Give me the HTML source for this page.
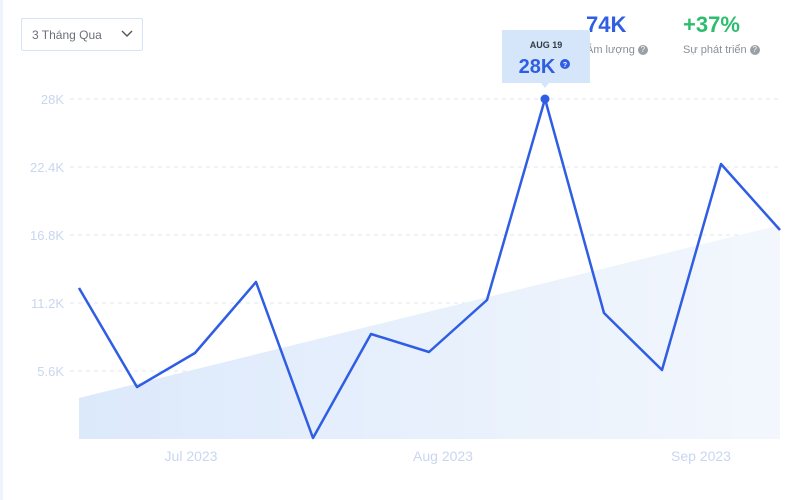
<!DOCTYPE html>
<html><head><meta charset="utf-8"><style>
body{margin:0;width:800px;height:500px;background:#fff;font-family:"Liberation Sans","Noto Sans CJK SC",sans-serif;position:relative;overflow:hidden}
.abs{position:absolute}
</style></head><body>
<div class="abs" style="left:0;top:0;width:3px;height:500px;background:#eef4fc"></div>
<div class="abs" style="left:21px;top:18px;width:122px;height:33px;border:1px solid #d4e3f8;border-radius:2px;box-sizing:border-box"></div>
<div class="abs" style="left:32px;top:28px;font-size:12px;color:#6b6f78">3 Tháng Qua</div>
<svg class="abs" style="left:120px;top:29px" width="14" height="10"><polyline points="2,2 7,7 12,2" fill="none" stroke="#555" stroke-width="1.4"/></svg>
<div class="abs" style="left:586px;top:12px;font-size:22px;font-weight:bold;color:#2f5de3">74K</div>
<div class="abs" style="left:586px;top:44px;font-size:11px;color:#8a8f98">Âm lượng <span style="display:inline-block;width:10px;height:10px;border-radius:50%;background:#9aa0a8;color:#fff;font-size:8px;text-align:center;line-height:10px;vertical-align:middle">?</span></div>
<div class="abs" style="left:683px;top:12px;font-size:22px;font-weight:bold;color:#2dbd6e">+37%</div>
<div class="abs" style="left:683px;top:44px;font-size:11px;color:#8a8f98">Sự phát triển <span style="display:inline-block;width:10px;height:10px;border-radius:50%;background:#9aa0a8;color:#fff;font-size:8px;text-align:center;line-height:10px;vertical-align:middle">?</span></div>
<svg class="abs" style="left:0;top:0" width="800" height="500">
<defs><linearGradient id="g" x1="0" x2="1" y1="0" y2="0"><stop offset="0" stop-color="#dce9fb"/><stop offset="1" stop-color="#f3f7fd"/></linearGradient></defs>
<g stroke="#dfe6f3" stroke-dasharray="4,4" stroke-width="1">
<line x1="70" x2="780" y1="99" y2="99"/><line x1="70" x2="780" y1="167" y2="167"/><line x1="70" x2="780" y1="235" y2="235"/><line x1="70" x2="780" y1="303" y2="303"/><line x1="70" x2="780" y1="371" y2="371"/></g>
<g fill="#c9d6f0" font-size="13" text-anchor="end" font-family="Liberation Sans,sans-serif">
<text x="64" y="104">28K</text><text x="64" y="172">22.4K</text><text x="64" y="240">16.8K</text><text x="64" y="308">11.2K</text><text x="64" y="376">5.6K</text></g>
<polygon points="79,398 780,225 780,439 79,439" fill="url(#g)"/>
<polyline points="79,288 137,387 195,353 256,282 313,438 371,334 429,352 487,300 545,99 604,313 662,370 721,164 780,230" fill="none" stroke="#2f5de3" stroke-width="2.5" stroke-linejoin="round"/>
<circle cx="545" cy="99" r="4.5" fill="#2f5de3"/>
<g fill="#c9d6f0" font-size="14" text-anchor="middle" font-family="Liberation Sans,sans-serif">
<text x="191" y="461">Jul 2023</text><text x="443" y="461">Aug 2023</text><text x="701" y="461">Sep 2023</text></g>
<rect x="502" y="30" width="88" height="53" fill="#d6e6fa"/>
<polygon points="541,83 549,83 545,88" fill="#d6e6fa"/>
<text x="546" y="48" text-anchor="middle" font-size="9" font-weight="bold" fill="#333a44" font-family="Liberation Sans,sans-serif">AUG 19</text>
<text x="537" y="73" text-anchor="middle" font-size="20" font-weight="bold" fill="#2f5de3" font-family="Liberation Sans,sans-serif">28K</text>
<circle cx="565" cy="64" r="5" fill="#2f5de3"/><text x="565" y="67" text-anchor="middle" font-size="7" fill="#fff" font-weight="bold">?</text>
</svg>
</body></html>
